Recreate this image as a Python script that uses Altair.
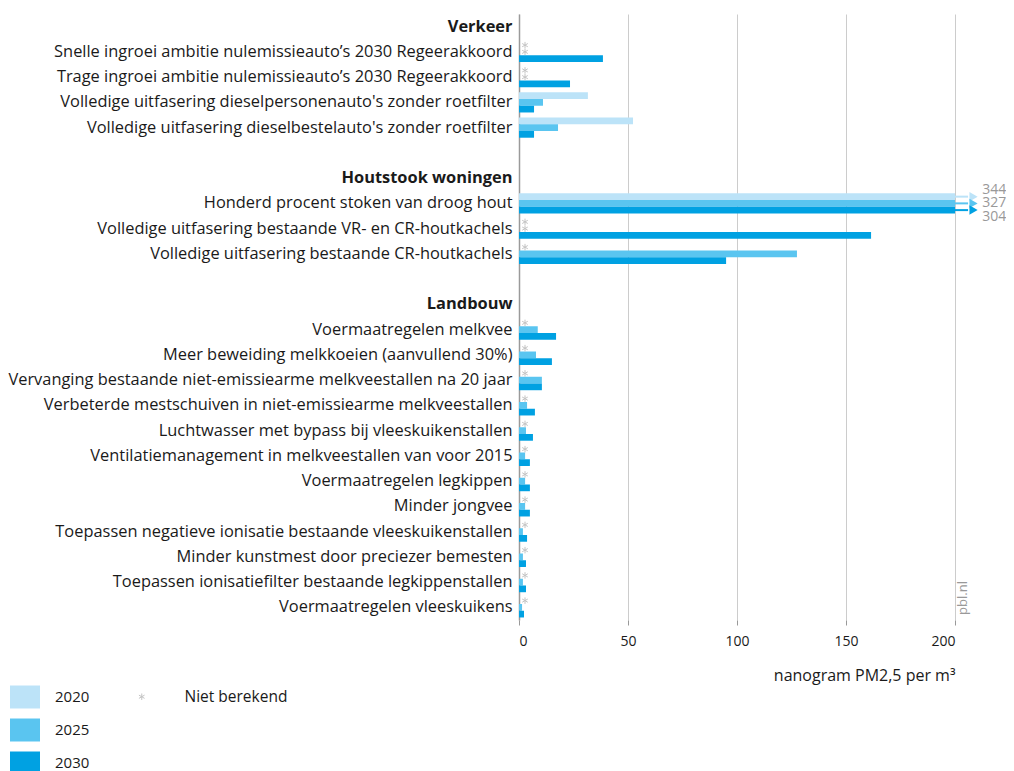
import altair as alt
import pandas as pd

# ---- data ----
groups = ["Verkeer", "Houtstook woningen", "Landbouw"]
verkeer = [
    "Snelle ingroei ambitie nulemissieauto’s 2030 Regeerakkoord",
    "Trage ingroei ambitie nulemissieauto’s 2030 Regeerakkoord",
    "Volledige uitfasering dieselpersonenauto's zonder roetfilter",
    "Volledige uitfasering dieselbestelauto's zonder roetfilter",
]
houtstook = [
    "Honderd procent stoken van droog hout",
    "Volledige uitfasering bestaande VR- en CR-houtkachels",
    "Volledige uitfasering bestaande CR-houtkachels",
]
landbouw = [
    "Voermaatregelen melkvee",
    "Meer beweiding melkkoeien (aanvullend 30%)",
    "Vervanging bestaande niet-emissiearme melkveestallen na 20 jaar",
    "Verbeterde mestschuiven in niet-emissiearme melkveestallen",
    "Luchtwasser met bypass bij vleeskuikenstallen",
    "Ventilatiemanagement in melkveestallen van voor 2015",
    "Voermaatregelen legkippen",
    "Minder jongvee",
    "Toepassen negatieve ionisatie bestaande vleeskuikenstallen",
    "Minder kunstmest door preciezer bemesten",
    "Toepassen ionisatiefilter bestaande legkippenstallen",
    "Voermaatregelen vleeskuikens",
]
measures = verkeer + houtstook + landbouw

years = ["2020", "2025", "2030"]
v2020 = [None, None, 31.6, 52.3, 344, None, None] + [None] * 12
v2025 = [None, None, 11.0, 17.9, 327, None, 127.5,
         8.6, 7.8, 10.5, 3.7, 3.2, 2.8, 2.8, 2.8, 1.8, 1.8, 1.8, 1.4]
v2030 = [38.5, 23.4, 6.9, 6.9, 304, 161.5, 95.0,
         17.0, 15.1, 10.5, 7.3, 6.4, 5.0, 5.0, 5.0, 3.7, 3.2, 3.2, 2.3]

colors = ["#bce3f8", "#5ac5f0", "#00a1e2"]
x_max = 200
not_computed = "Niet berekend"
axis_title = "nanogram PM2,5 per m³"

# ---- table ----
row_order = ([groups[0]] + verkeer + [" "] + [groups[1]] + houtstook + ["  "]
             + [groups[2]] + landbouw)

records = []
for i, m in enumerate(measures):
    for y, vals in zip(years, [v2020, v2025, v2030]):
        v = vals[i]
        records.append({
            "row": m,
            "year": y,
            "value": v,
            "xplot": min(v, x_max) if v is not None else None,
            "status": not_computed if v is None else "ok",
        })
df = pd.DataFrame(records)

lab_rows = []
for i, m in enumerate(measures):
    vals = [v2020[i], v2025[i], v2030[i]]
    if any(v is not None and v > x_max for v in vals):
        lab_rows.append({"row": m, "txt": "\n".join(str(v) for v in vals if v is not None)})
df_lab = pd.DataFrame(lab_rows)

FONT = "Open Sans"
ASTERISK = "M0,-1L0,1M-0.866,-0.5L0.866,0.5M-0.866,0.5L0.866,-0.5"

y_enc = alt.Y(
    "row:N",
    sort=row_order,
    scale=alt.Scale(domain=row_order, paddingInner=0.2, paddingOuter=0.1),
    axis=alt.Axis(
        title=None,
        ticks=False,
        labelPadding=7,
        labelLimit=900,
        labelFont=FONT,
        labelFontSize=16.4,
        labelColor="#1a1a1a",
        labelFontWeight={
            "condition": {
                "test": "indexof(['Verkeer','Houtstook woningen','Landbouw'], datum.value) >= 0",
                "value": "bold",
            },
            "value": "normal",
        },
        domainColor="#9a9a9a",
        domainWidth=1.5,
    ),
)
yoff = alt.YOffset("year:N", scale=alt.Scale(domain=years))
x_scale = alt.Scale(domain=[0, x_max], nice=False)
color_enc = alt.Color(
    "year:N",
    scale=alt.Scale(domain=years, range=colors),
    legend=alt.Legend(
        title=None,
        orient="none",
        legendX=-509,
        legendY=668,
        direction="vertical",
        symbolType="M-1,-0.7667H1V0.7667H-1Z",
        symbolSize=900,
        symbolStrokeWidth=0,
        symbolOpacity=1,
        labelFont=FONT,
        labelFontSize=15,
        labelColor="#1a1a1a",
        labelOffset=15,
        rowPadding=6,
        padding=0,
    ),
)

base = alt.Chart(df)

bars = base.transform_filter("isValid(datum.value)").mark_bar().encode(
    x=alt.X(
        "xplot:Q",
        scale=x_scale,
        axis=alt.Axis(
            values=[0, 50, 100, 150, 200],
            grid=True,
            gridColor="#cccccc",
            domain=False,
            tickColor="#999999",
            tickSize=5,
            labelFont=FONT,
            labelFontSize=14,
            labelColor="#1a1a1a",
            labelPadding=9,
            title=axis_title,
            titleFont=FONT,
            titleFontSize=16,
            titleFontWeight="normal",
            titleColor="#1a1a1a",
            titleAnchor="end",
            titlePadding=19,
        ),
    ),
    y=y_enc,
    yOffset=yoff,
    color=color_enc,
)

stars = base.transform_filter("!isValid(datum.value)").mark_point(
    filled=False, color="#c4c4c4", strokeWidth=1, size=42, xOffset=6, opacity=1
).encode(
    x=alt.datum(0),
    y=y_enc,
    yOffset=yoff,
    shape=alt.Shape(
        "status:N",
        scale=alt.Scale(domain=[not_computed], range=[ASTERISK]),
        legend=alt.Legend(
            title=None,
            orient="none",
            legendX=-385,
            legendY=675,
            symbolStrokeColor="#c4c4c4",
            symbolFillColor="transparent",
            symbolStrokeWidth=1,
            symbolSize=42,
            symbolOpacity=1,
            labelFont=FONT,
            labelFontSize=15.5,
            labelColor="#1a1a1a",
            labelOffset=35,
            padding=0,
        ),
    ),
)

over = base.transform_filter("datum.value > 200")
shafts = over.mark_rule(strokeWidth=2).encode(
    x=alt.X("xplot:Q", scale=x_scale),
    x2=alt.datum(206),
    y=y_enc,
    yOffset=yoff,
    color=color_enc,
)
heads = over.mark_point(shape="triangle-right", filled=True, size=90, opacity=1).encode(
    x=alt.datum(208.5),
    y=y_enc,
    yOffset=yoff,
    color=color_enc,
)
labels = alt.Chart(df_lab).mark_text(
    align="left", baseline="middle", lineBreak="\n", lineHeight=13.5, dy=-13.5,
    font=FONT, fontSize=14, color="#999999",
).encode(
    x=alt.datum(212.5),
    y=y_enc,
    text="txt:N",
)

credit = alt.Chart(pd.DataFrame({"t": ["pbl.nl"]})).mark_text(
    angle=270, font=FONT, fontSize=13, color="#999999", align="center", baseline="middle"
).encode(text="t:N", x=alt.value(444), y=alt.value(584))

chart = alt.layer(bars, stars, shafts, heads, labels, credit).properties(
    width=436,
    height=606,
    padding={"left": 511, "top": 6, "right": 51, "bottom": 151},
    autosize=alt.AutoSizeParams(type="none"),
).configure_view(stroke=None)

chart.save("out.html", embed_options={"renderer": "svg", "actions": False})
